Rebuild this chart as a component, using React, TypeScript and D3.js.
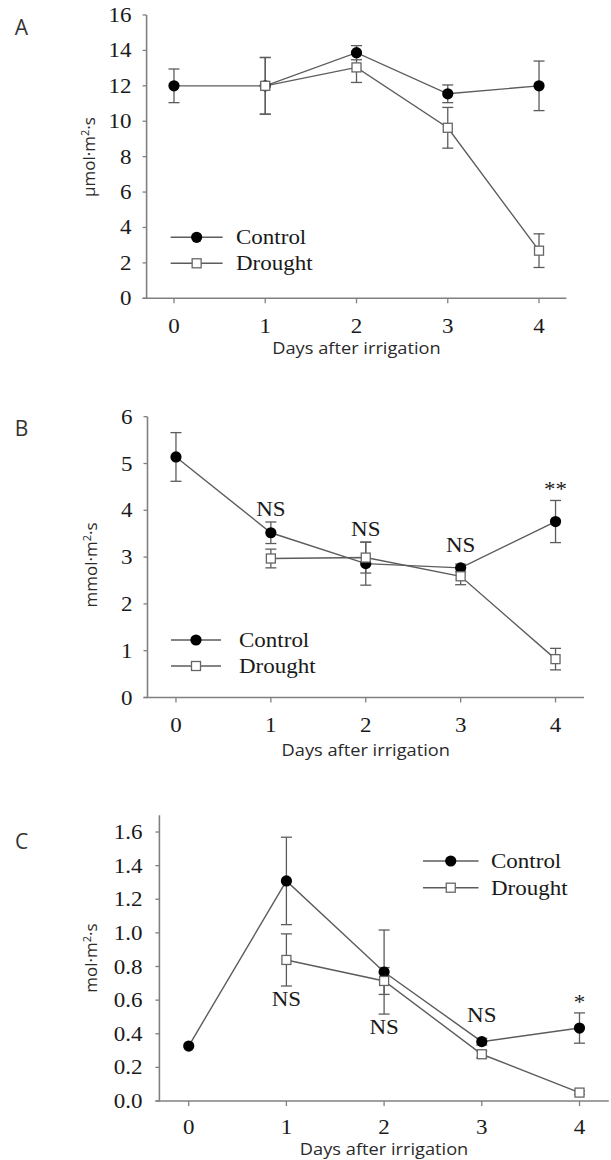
import React from "react";
import * as d3 from "d3";

const days = [0, 1, 2, 3, 4];

// A: umol m-2 s
const aControl = [12.0, 12.0, 13.87, 11.55, 12.0];
const aControlErr = [0.95, 1.6, 0.4, 0.5, 1.4];
const aDrought = [null, 12.0, 13.04, 9.63, 2.69];
const aDroughtErr = [null, 1.6, 0.85, 1.15, 0.95];
const aTicks = [0, 2, 4, 6, 8, 10, 12, 14, 16];

// B: mmol m-2 s
const bControl = [5.14, 3.52, 2.86, 2.77, 3.76];
const bControlErr = [0.52, 0.23, 0.46, 0.08, 0.45];
const bDrought = [null, 2.97, 2.99, 2.59, 0.82];
const bDroughtErr = [null, 0.2, 0.33, 0.18, 0.23];
const bTicks = [0, 1, 2, 3, 4, 5, 6];
const bSig = ["", "NS", "NS", "NS", "**"];
const bSigY = [null, 4.02, 3.6, 3.26, 4.5];

// C: mol m-2 s
const cControl = [0.327, 1.309, 0.767, 0.353, 0.434];
const cControlErr = [0, 0.26, 0.25, 0.02, 0.09];
const cDrought = [null, 0.839, 0.714, 0.278, 0.05];
const cDroughtErr = [null, 0.155, 0.08, 0.02, 0.01];
const cTicks = [0, 0.2, 0.4, 0.6, 0.8, 1.0, 1.2, 1.4, 1.6];
const cSig = ["", "NS", "NS", "NS", "*"];
const cSigY = [null, 0.605, 0.438, 0.51, 0.6];

const seriesNames = ["Control", "Drought"];
const xLabel = "Days after irrigation";

const SX = 1.15;
const SERIF = "'Liberation Serif', 'Times New Roman', serif";
const SANS = "'Open Sans', 'Noto Sans', sans-serif";
const LINE = "#5c5c5c";
const AXIS = "#808080";

const SText = ({ x, y, anchor = "start", size = 20, children }: any) => (
  <text
    transform={`translate(${x},${y}) scale(${SX},1)`}
    textAnchor={anchor}
    fontFamily={SERIF}
    fontSize={size}
    fill="#1a1a1a"
  >
    {children}
  </text>
);

const Marker = ({ kind, x, y }: any) =>
  kind === 0 ? (
    <circle cx={x} cy={y} r={5.6} fill="#000" />
  ) : (
    <rect x={x - 4.5} y={y - 4.5} width={9} height={9} fill="#fff" stroke="#666" strokeWidth={1.3} />
  );

const Panel = ({ cfg }: any) => {
  const x = d3.scaleLinear().domain([-0.3, 4.3]).range(cfg.xRange);
  const y = d3.scaleLinear().domain(cfg.yDomain).range(cfg.yRange);
  const y0 = y(0);
  const fmt = cfg.fmt;
  const line = d3
    .line<any>()
    .defined((d) => d.v != null)
    .x((d) => x(d.day))
    .y((d) => y(d.v));
  const series = cfg.series.map((s: any) =>
    days.map((day, i) => ({ day, v: s.values[i], e: s.errs[i] }))
  );
  const L = cfg.legend;
  const mid = (x(0) + x(4)) / 2;
  return (
    <g>
      <text x={21.5} y={cfg.letterY + 7} textAnchor="middle" fontFamily={SANS} fontSize={21} fill="#333">
        {cfg.letter}
      </text>
      {/* axes */}
      <line x1={x(-0.3)} x2={x(-0.3)} y1={y0} y2={y(cfg.yDomain[1])} stroke={AXIS} strokeWidth={1.6} />
      <line x1={x(-0.3) - 4} x2={x(4.3)} y1={y0} y2={y0} stroke={AXIS} strokeWidth={1.6} />
      {cfg.ticks.map((t: number) => (
        <g key={t}>
          <line x1={x(-0.3) - 4} x2={x(-0.3)} y1={y(t)} y2={y(t)} stroke={AXIS} strokeWidth={1.3} />
          <SText x={x(-0.3) - cfg.tickGap} y={y(t) + 7} anchor="end">
            {fmt(t)}
          </SText>
        </g>
      ))}
      {days.map((d) => (
        <g key={d}>
          <line x1={x(d)} x2={x(d)} y1={y0} y2={y0 + 5} stroke={AXIS} strokeWidth={1.3} />
          <SText x={x(d)} y={y0 + cfg.xLabGap} anchor="middle">
            {d}
          </SText>
        </g>
      ))}
      <text
        x={mid}
        y={cfg.xTitleY}
        textAnchor="middle"
        fontFamily={SANS}
        fontSize={16}
        fill="#2a2a2a"
        transform={`translate(${mid},0) scale(1.14,1) translate(${-mid},0)`}
      >
        {xLabel}
      </text>
      <text
        transform={`translate(${cfg.yTitleX},${cfg.yTitleY}) rotate(-90)`}
        textAnchor="middle"
        fontFamily={SANS}
        fontSize={17}
        fill="#2a2a2a"
      >
        {cfg.yTitle}
        <tspan dy={-6} fontSize={11}>2</tspan>
        <tspan dy={6}>·s</tspan>
      </text>
      {/* lines */}
      {series.map((s: any, k: number) => (
        <path key={k} d={line(s) || ""} fill="none" stroke={LINE} strokeWidth={1.4} />
      ))}
      {/* error bars */}
      {series.map((s: any, k: number) =>
        s
          .filter((p: any) => p.v != null && p.e > 0)
          .map((p: any) => {
            const cx = x(p.day);
            const t = y(p.v + p.e);
            const b = y(p.v - p.e);
            return (
              <g key={`${k}-${p.day}`} stroke={LINE} strokeWidth={1.3}>
                <line x1={cx} x2={cx} y1={t} y2={b} />
                <line x1={cx - 5.5} x2={cx + 5.5} y1={t} y2={t} />
                <line x1={cx - 5.5} x2={cx + 5.5} y1={b} y2={b} />
              </g>
            );
          })
      )}
      {/* markers */}
      {series.map((s: any, k: number) =>
        s
          .filter((p: any) => p.v != null)
          .map((p: any) => <Marker key={`${k}-${p.day}`} kind={k} x={x(p.day)} y={y(p.v)} />)
      )}
      {/* significance */}
      {cfg.sig &&
        cfg.sig.map((lab: string, i: number) =>
          lab ? (
            <SText key={i} x={x(days[i])} y={y(cfg.sigY[i]) + (lab.startsWith("*") ? 9 : 7)} anchor="middle">
              {lab}
            </SText>
          ) : null
        )}
      {/* legend */}
      {seriesNames.map((n, k) => {
        const ly = L.ys[k];
        return (
          <g key={n}>
            <line x1={L.x1} x2={L.x2} y1={ly} y2={ly} stroke={LINE} strokeWidth={1.4} />
            <Marker kind={k} x={(L.x1 + L.x2) / 2} y={ly} />
            <SText x={L.tx} y={ly + 7}>
              {n}
            </SText>
          </g>
        );
      })}
    </g>
  );
};

const panels = [
  {
    letter: "A",
    letterY: 28,
    xRange: [146.6, 566.4],
    yDomain: [0, 16],
    yRange: [298.3, 15],
    ticks: aTicks,
    fmt: d3.format("d"),
    tickGap: 15,
    xLabGap: 34.5,
    xTitleY: 354,
    yTitle: "μmol·m",
    yTitleX: 95,
    yTitleY: 157,
    series: [
      { values: aControl, errs: aControlErr },
      { values: aDrought, errs: aDroughtErr },
    ],
    legend: { x1: 170.7, x2: 222.6, tx: 236, ys: [237.3, 263.3] },
  },
  {
    letter: "B",
    letterY: 429,
    xRange: [147.5, 584],
    yDomain: [0, 6],
    yRange: [697.5, 416.7],
    ticks: bTicks,
    fmt: d3.format("d"),
    tickGap: 15,
    xLabGap: 34,
    xTitleY: 756,
    yTitle: "mmol·m",
    yTitleX: 97,
    yTitleY: 565,
    series: [
      { values: bControl, errs: bControlErr },
      { values: bDrought, errs: bDroughtErr },
    ],
    sig: bSig,
    sigY: bSigY,
    legend: { x1: 171, x2: 221, tx: 239, ys: [640, 666] },
  },
  {
    letter: "C",
    letterY: 842,
    xRange: [159.4, 608.8],
    yDomain: [0, 1.7],
    yRange: [1101, 815.2],
    ticks: cTicks,
    fmt: d3.format(".1f"),
    tickGap: 17,
    xLabGap: 32.5,
    xTitleY: 1155.5,
    yTitle: "mol·m",
    yTitleX: 97,
    yTitleY: 958,
    series: [
      { values: cControl, errs: cControlErr },
      { values: cDrought, errs: cDroughtErr },
    ],
    sig: cSig,
    sigY: cSigY,
    legend: { x1: 423, x2: 478.5, tx: 491, ys: [861, 887.7] },
  },
];

export default function App() {
  return (
    <svg
      width={611}
      height={1160}
      style={{ position: "absolute", left: 0, top: 0, background: "#fff" }}
    >
      {panels.map((p) => (
        <Panel key={p.letter} cfg={p} />
      ))}
    </svg>
  );
}
